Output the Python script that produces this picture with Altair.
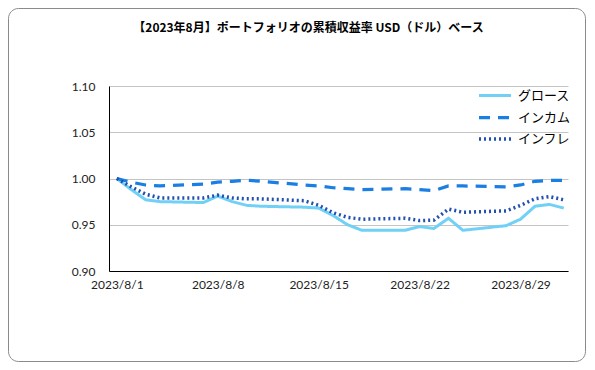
import altair as alt
import pandas as pd

# ---- data ----
dates = [
    "2023-08-01", "2023-08-02", "2023-08-03", "2023-08-04", "2023-08-07",
    "2023-08-08", "2023-08-09", "2023-08-10", "2023-08-11", "2023-08-14",
    "2023-08-15", "2023-08-16", "2023-08-17", "2023-08-18", "2023-08-21",
    "2023-08-22", "2023-08-23", "2023-08-24", "2023-08-25", "2023-08-28",
    "2023-08-29", "2023-08-30", "2023-08-31", "2023-09-01",
]
growth = [1.000, 0.988, 0.977, 0.975, 0.974, 0.981, 0.975, 0.971, 0.970, 0.969,
          0.968, 0.960, 0.950, 0.944, 0.944, 0.948, 0.946, 0.957, 0.944, 0.949,
          0.956, 0.970, 0.972, 0.968]
income = [1.000, 0.996, 0.993, 0.992, 0.994, 0.996, 0.997, 0.998, 0.997, 0.993,
          0.992, 0.990, 0.989, 0.988, 0.989, 0.988, 0.987, 0.992, 0.992, 0.991,
          0.993, 0.997, 0.998, 0.998]
inflation = [1.000, 0.991, 0.983, 0.979, 0.979, 0.982, 0.979, 0.978, 0.978, 0.976,
             0.971, 0.963, 0.958, 0.956, 0.957, 0.9545, 0.955, 0.967, 0.9635, 0.965,
             0.971, 0.978, 0.9805, 0.977]
series_names = ["グロース", "インカム", "インフレ"]
series_colors = ["#70d0f6", "#1a7ee3", "#2150b0"]
y_ticks = [0.90, 0.95, 1.00, 1.05, 1.10]
x_tick_dates = ["2023-08-01", "2023-08-08", "2023-08-15", "2023-08-22", "2023-08-29"]
title_text = "【2023年8月】ポートフォリオの累積収益率 USD（ドル）ベース"

rows = []
for name, vals in zip(series_names, [growth, income, inflation]):
    for d, v in zip(dates, vals):
        rows.append({"date": d + "T00:00:00", "series": name, "value": v})
df = pd.DataFrame(rows)


def dt(s, hours=0):
    y, m, d = (int(p) for p in s.split("-"))
    return alt.DateTime(year=y, month=m, date=d, hours=hours)


W, H = 459, 185
PAD_L, PAD_T = 101, 78
TOTAL_W, TOTAL_H = 578, 354

legend_kw = dict(
    title=None, orient="none", legendX=376, legendY=0,
    symbolType="M-2,0H2", symbolSize=256, symbolStrokeWidth=3,
    labelFontSize=13, labelFont="Noto Sans CJK JP", labelColor="#000000",
    labelOffset=13, rowPadding=4.5, padding=0,
)

lines = alt.Chart(df).mark_line(clip=False).encode(
    x=alt.X(
        "date:T",
        scale=alt.Scale(domain=[dt("2023-07-31", 11), dt("2023-09-01", 7)]),
        axis=alt.Axis(
            values=[dt(s) for s in x_tick_dates],
            format="%Y/%-m/%-d",
            title=None, grid=False, ticks=False,
            domainColor="#000000", domainWidth=1,
            labelPadding=8,
        ),
    ),
    y=alt.Y(
        "value:Q",
        scale=alt.Scale(domain=[0.90, 1.10], nice=False, zero=False),
        axis=alt.Axis(
            values=y_ticks, format=".2f", title=None, ticks=False,
            grid=True, gridColor="#c4c4c4", gridWidth=1,
            domainColor="#000000", domainWidth=1, labelPadding=14,
        ),
    ),
    color=alt.Color(
        "series:N",
        scale=alt.Scale(domain=series_names, range=series_colors),
        sort=series_names,
        legend=alt.Legend(**legend_kw),
    ),
    strokeDash=alt.StrokeDash(
        "series:N",
        scale=alt.Scale(domain=series_names, range=[[1, 0], [11, 8], [2, 3]]),
        sort=series_names,
        legend=alt.Legend(**legend_kw),
    ),
    strokeWidth=alt.StrokeWidth(
        "series:N",
        scale=alt.Scale(domain=series_names, range=[3, 3.5, 3]),
        legend=None,
    ),
)

border = alt.Chart(pd.DataFrame({"k": [0]})).mark_rect(
    filled=False, stroke="#8a8a8a", strokeWidth=1, cornerRadius=10, clip=False
).encode(
    x=alt.value(-100.5), x2=alt.value(TOTAL_W - PAD_L - 0.5),
    y=alt.value(-77.5), y2=alt.value(TOTAL_H - PAD_T - 0.5),
)

chart = alt.layer(border, lines).properties(
    width=W, height=H,
    title=alt.TitleParams(
        title_text, font="Noto Sans CJK JP", fontSize=12, fontWeight="bold",
        color="#000000", anchor="middle", frame="group", dx=-30, offset=0, dy=27,
    ),
    autosize=alt.AutoSizeParams(type="none"),
    padding={"left": PAD_L, "top": PAD_T, "right": TOTAL_W - W - PAD_L,
             "bottom": TOTAL_H - H - PAD_T},
).configure_view(stroke=None).configure_axis(
    labelFont="Lato", labelFontSize=12, labelColor="#222222"
)

chart.save("out.html", embed_options={"renderer": "svg", "actions": False})
